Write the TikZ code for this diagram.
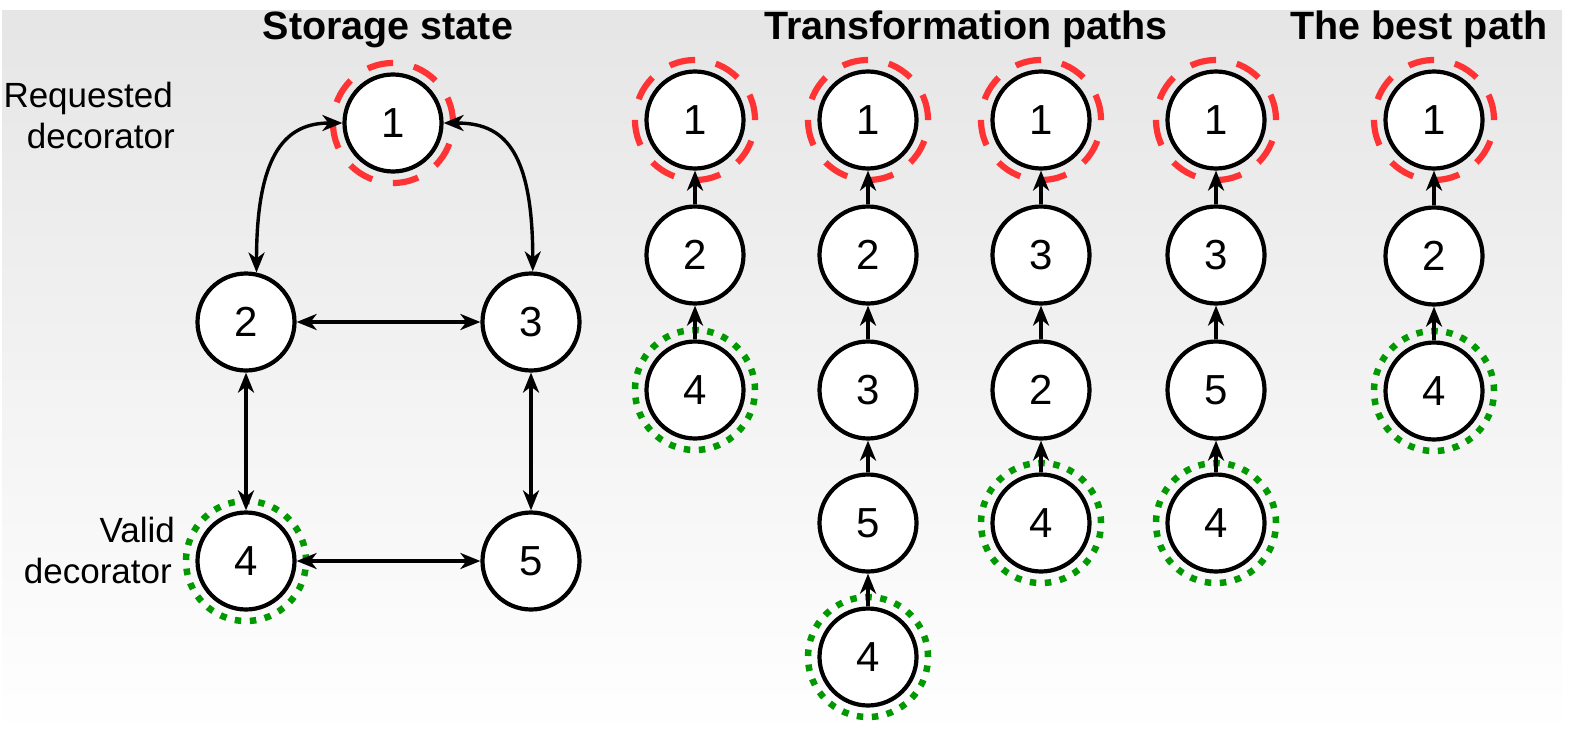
\documentclass[tikz,border=0pt]{standalone}
\usepackage{fontspec}
\setmainfont{Liberation Sans}
\usetikzlibrary{arrows.meta}
\definecolor{ringred}{HTML}{FF3333}
\definecolor{ringgreen}{HTML}{009900}
\tikzset{
  st/.style={circle, draw=black, line width=4.2pt, fill=white, minimum size=97pt, inner sep=0pt,
             font=\fontsize{42pt}{50pt}\selectfont},
  redring/.style={circle, draw=ringred, line width=6.2pt, minimum size=120pt, inner sep=0pt,
             dash pattern=on 26pt off 21.1pt},
  greenring/.style={circle, draw=ringgreen, line width=6.5pt, minimum size=120pt, inner sep=0pt,
             dash pattern=on 6.5pt off 8.58pt},
  title/.style={anchor=base, font=\fontsize{39.5pt}{46pt}\selectfont\bfseries, inner sep=0pt},
  lbl/.style={anchor=base east, font=\fontsize{35pt}{42pt}\selectfont, inner sep=0pt},
  conn/.style={line width=3.4pt, draw=black},
  one/.style={conn, -{Stealth[length=20pt,width=16pt,inset=6pt]}},
  two/.style={conn, {Stealth[length=20pt,width=16pt,inset=6pt]}-{Stealth[length=20pt,width=16pt,inset=6pt]}},
}
\begin{document}
\begin{tikzpicture}[x=1pt,y=-1pt]
\useasboundingbox (0,0) rectangle (1576,736);
\shade[top color=black!10, bottom color=white] (2,10) rectangle (1562,736);

% titles
\node[title] (t1) at (388,39) {Storage state};
\node[title] (t2) at (966,39) {Transformation paths};
\node[title] (t3) at (1419,39) {The best path};

% labels
\node[lbl] (lr1) at (173,107) {Requested};
\node[lbl] (lr2) at (175,148) {decorator};
\node[lbl] (lv1) at (175,542) {Valid};
\node[lbl] (lv2) at (172,583) {decorator};

% storage state rings
\node[redring] (r0) at (393,123) {};
\node[greenring] (g0) at (246,561) {};
% storage state nodes
\node[st] (s1) at (393,123) {1};
\node[st] (s2) at (246,322) {2};
\node[st] (s3) at (531,322) {3};
\node[st] (s4) at (246,561) {4};
\node[st] (s5) at (531,561) {5};

\draw[two] (s2.78) .. controls +(0,-122) and +(-55,0) .. (s1.west);
\draw[two] (s1.east) .. controls +(58,0) and +(0,-125) .. (s3.88);
\draw[two] (s2) -- (s3);
\draw[two] (s2) -- (s4);
\draw[two] (s3) -- (s5);
\draw[two] (s4) -- (s5);

% column 1
\node[redring] (r1) at (695,120) {};
\node[greenring] (g1) at (695,390) {};
\node[st] (a1) at (695,120) {1};
\node[st] (a2) at (695,255) {2};
\node[st] (a4) at (695,390) {4};
\draw[one] (a2) -- (a1);
\draw[one] (a4) -- (a2);

% column 2
\node[redring] (r2) at (868,120) {};
\node[greenring] (g2) at (868,657) {};
\node[st] (b1) at (868,120) {1};
\node[st] (b2) at (868,255) {2};
\node[st] (b3) at (868,390) {3};
\node[st] (b5) at (868,523) {5};
\node[st] (b4) at (868,657) {4};
\draw[one] (b2) -- (b1);
\draw[one] (b3) -- (b2);
\draw[one] (b5) -- (b3);
\draw[one] (b4) -- (b5);

% column 3
\node[redring] (r3) at (1041,120) {};
\node[greenring] (g3) at (1041,523) {};
\node[st] (c1) at (1041,120) {1};
\node[st] (c3) at (1041,255) {3};
\node[st] (c2) at (1041,390) {2};
\node[st] (c4) at (1041,523) {4};
\draw[one] (c3) -- (c1);
\draw[one] (c2) -- (c3);
\draw[one] (c4) -- (c2);

% column 4
\node[redring] (r4) at (1216,120) {};
\node[greenring] (g4) at (1216,523) {};
\node[st] (d1) at (1216,120) {1};
\node[st] (d3) at (1216,255) {3};
\node[st] (d5) at (1216,390) {5};
\node[st] (d4) at (1216,523) {4};
\draw[one] (d3) -- (d1);
\draw[one] (d5) -- (d3);
\draw[one] (d4) -- (d5);

% best path
\node[redring] (r5) at (1434,120) {};
\node[greenring] (g5) at (1434,391) {};
\node[st] (e1) at (1434,120) {1};
\node[st] (e2) at (1434,256) {2};
\node[st] (e4) at (1434,391) {4};
\draw[one] (e2) -- (e1);
\draw[one] (e4) -- (e2);
\end{tikzpicture}
\end{document}
